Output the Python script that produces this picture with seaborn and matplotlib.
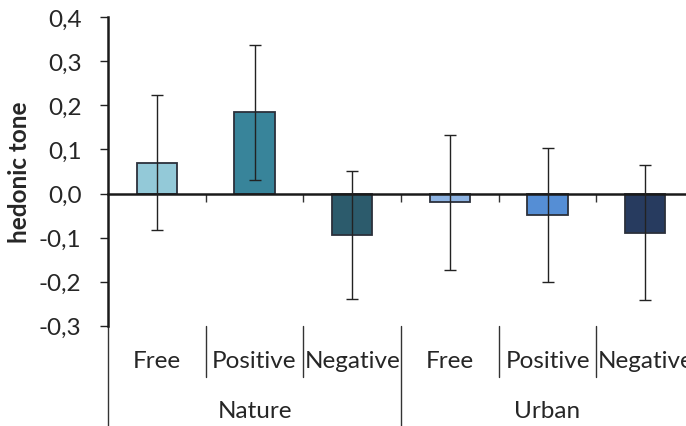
import matplotlib
matplotlib.use("Agg")
import matplotlib.pyplot as plt
import seaborn as sns
import pandas as pd

# ---- data ----
groups = ["Nature", "Nature", "Nature", "Urban", "Urban", "Urban"]
conditions = ["Free", "Positive", "Negative", "Free", "Positive", "Negative"]
means = [0.070, 0.184, -0.094, -0.020, -0.048, -0.089]
errors = [0.153, 0.153, 0.145, 0.153, 0.152, 0.153]
colors = ["#93C9D8", "#38849A", "#2C5B6C", "#8DB3E2", "#558ED5", "#273B5F"]
yticks = [-0.3, -0.2, -0.1, 0.0, 0.1, 0.2, 0.3, 0.4]
group_names = ["Nature", "Urban"]
ylabel = "hedonic tone"

keys = [f"{g}|{c}" for g, c in zip(groups, conditions)]
df = pd.DataFrame({"key": keys, "mean": means, "err": errors})

sns.set_style("white")
plt.rcParams["font.family"] = ["Lato", "DejaVu Sans"]
FS = 17.5

W, H = 686, 427
fig = plt.figure(figsize=(W / 100, H / 100), dpi=100)
ax_left, ax_right = 108, 694
ax_top, ax_bot = 18.3, 326.7
ax = fig.add_axes([ax_left / W, 1 - ax_bot / H, (ax_right - ax_left) / W, (ax_bot - ax_top) / H])

sns.barplot(data=df, x="key", y="mean", hue="key", palette=colors, order=keys,
            legend=False, width=0.41, saturation=1, edgecolor="#2b303b", linewidth=1.3, ax=ax)
ax.errorbar(range(len(keys)), means, yerr=errors, fmt="none", ecolor="#222222",
            elinewidth=1.0, capsize=4.3, capthick=1.0, zorder=5)

ax.set_xlim(-0.5, len(keys) - 0.5)
ax.set_ylim(-0.3, 0.4)
ax.set_yticks(yticks)
ax.set_yticklabels([f"{v:.1f}".replace(".", ",") for v in yticks], fontsize=FS)
ax.tick_params(axis="y", direction="out", length=6, width=1.0, pad=13, left=True, color="#222222")

# x axis at zero
for s in ["top", "right"]:
    ax.spines[s].set_visible(False)
ax.spines["bottom"].set_position(("data", 0))
ax.spines["bottom"].set_linewidth(1.8)
ax.spines["bottom"].set_color("#1a1a1a")
ax.spines["left"].set_linewidth(1.8)
ax.spines["left"].set_color("#1a1a1a")
ax.set_xticks([i + 0.5 for i in range(len(keys))])
ax.set_xticklabels([])
ax.tick_params(axis="x", direction="out", length=6, width=1.0, bottom=True, color="#333333")
ax.set_xlabel("")
ax.set_ylabel("")

tr = ax.get_xaxis_transform()
axh = ax_bot - ax_top
def yfrac(py):
    return (ax_bot - py) / axh

# inner labels
for i, c in enumerate(conditions):
    ax.text(i, yfrac(362), c, transform=tr, ha="center", va="center", fontsize=FS, clip_on=False)
# group labels
for j, g in enumerate(group_names):
    ax.text(j * 3 + 1, yfrac(412), g, transform=tr, ha="center", va="center", fontsize=FS, clip_on=False)
# separators
for i in range(len(keys) + 1):
    x = i - 0.5
    if i % 3 == 0:
        y0, y1 = yfrac(326.7), yfrac(430)
    else:
        y0, y1 = yfrac(327), yfrac(378)
    ax.plot([x, x], [y0, y1], transform=tr, color="#333333", lw=1.0, clip_on=False)

fig.text(20 / W, 1 - 172 / H, ylabel, rotation=90, ha="center", va="center",
         fontsize=FS, fontweight="bold")

fig.savefig("out.png", dpi=100)
